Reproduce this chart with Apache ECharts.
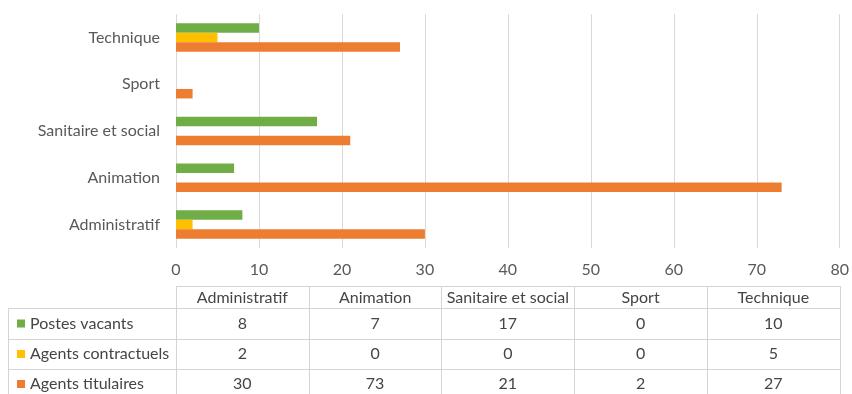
<!DOCTYPE html>
<html><head><meta charset="utf-8">
<script src="https://cdn.jsdelivr.net/npm/echarts@6/dist/echarts.min.js"></script>
<style>html,body{margin:0;padding:0;background:#fff}#c{width:852px;height:394px}</style>
</head><body><div id="c"></div>
<script>
var categories = ['Administratif', 'Animation', 'Sanitaire et social', 'Sport', 'Technique'];
var seriesNames = ['Postes vacants', 'Agents contractuels', 'Agents titulaires'];
var postesVacants = [8, 7, 17, 0, 10];
var agentsContractuels = [2, 0, 0, 0, 5];
var agentsTitulaires = [30, 73, 21, 2, 27];
var xTicks = [0, 10, 20, 30, 40, 50, 60, 70, 80];
var colors = ['#70AD47', '#FFC000', '#ED7D31'];
var seriesValues = [postesVacants, agentsContractuels, agentsTitulaires];

var FONT = 'Lato, "Open Sans", sans-serif';
var chart = echarts.init(document.getElementById('c'), null, {renderer: 'canvas'});
chart.setOption({
  animation: false,
  textStyle: {fontFamily: FONT},
  grid: {left: 176, right: 8, top: 14, bottom: 146, containLabel: false},
  xAxis: {
    type: 'value', min: xTicks[0], max: xTicks[xTicks.length - 1], interval: 10,
    axisLine: {show: false}, axisTick: {show: false},
    axisLabel: {color: '#595959', fontSize: 16, fontFamily: FONT, margin: 14},
    splitLine: {show: true, lineStyle: {color: '#d9d9d9', width: 1}}
  },
  yAxis: {
    type: 'category', data: categories,
    axisLine: {show: false}, axisTick: {show: false},
    axisLabel: {color: '#595959', fontSize: 16, fontFamily: FONT, margin: 16}
  },
  series: seriesNames.map(function (n, i) {
    return {
      name: n, type: 'bar', data: seriesValues[i],
      itemStyle: {color: colors[i]},
      barGap: '0%', barCategoryGap: '39%'
    };
  })
});

// data table beneath the chart
var x0 = chart.convertToPixel({xAxisIndex: 0}, xTicks[0]);
var x1 = chart.convertToPixel({xAxisIndex: 0}, xTicks[xTicks.length - 1]);
var colW = (x1 - x0) / categories.length;
var rowTops = [286, 308, 339, 369, 399];
var leftEdge = 8;
var lineColor = '#d4d4d4';
var g = [];
function line(xa, ya, xb, yb) {
  g.push({type: 'line', shape: {x1: xa, y1: ya, x2: xb, y2: yb}, style: {stroke: lineColor, lineWidth: 1}, silent: true});
}
function text(str, x, y, align) {
  g.push({type: 'text', x: x, y: y, style: {text: str, fill: '#454545', font: '16px ' + FONT, align: align, verticalAlign: 'middle'}, silent: true});
}
line(x0, rowTops[0] + 0.5, x1, rowTops[0] + 0.5);
for (var r = 1; r < rowTops.length; r++) line(leftEdge, rowTops[r] + 0.5, x1, rowTops[r] + 0.5);
line(leftEdge + 0.5, rowTops[1], leftEdge + 0.5, rowTops[4]);
for (var c = 0; c <= categories.length; c++) {
  var xx = Math.round(x0 + c * colW) + 0.5;
  line(xx, rowTops[0], xx, rowTops[4]);
}
categories.forEach(function (cat, c) {
  text(cat, x0 + (c + 0.5) * colW, (rowTops[0] + rowTops[1]) / 2 + 1, 'center');
});
seriesNames.forEach(function (n, i) {
  var cy = (rowTops[i + 1] + rowTops[i + 2]) / 2;
  g.push({type: 'rect', shape: {x: 17, y: cy - 4, width: 8, height: 8}, style: {fill: colors[i]}, silent: true});
  text(n, 30, cy, 'left');
  seriesValues[i].forEach(function (v, c) {
    text(String(v), x0 + (c + 0.5) * colW, cy, 'center');
  });
});
chart.setOption({graphic: g});
</script></body></html>
